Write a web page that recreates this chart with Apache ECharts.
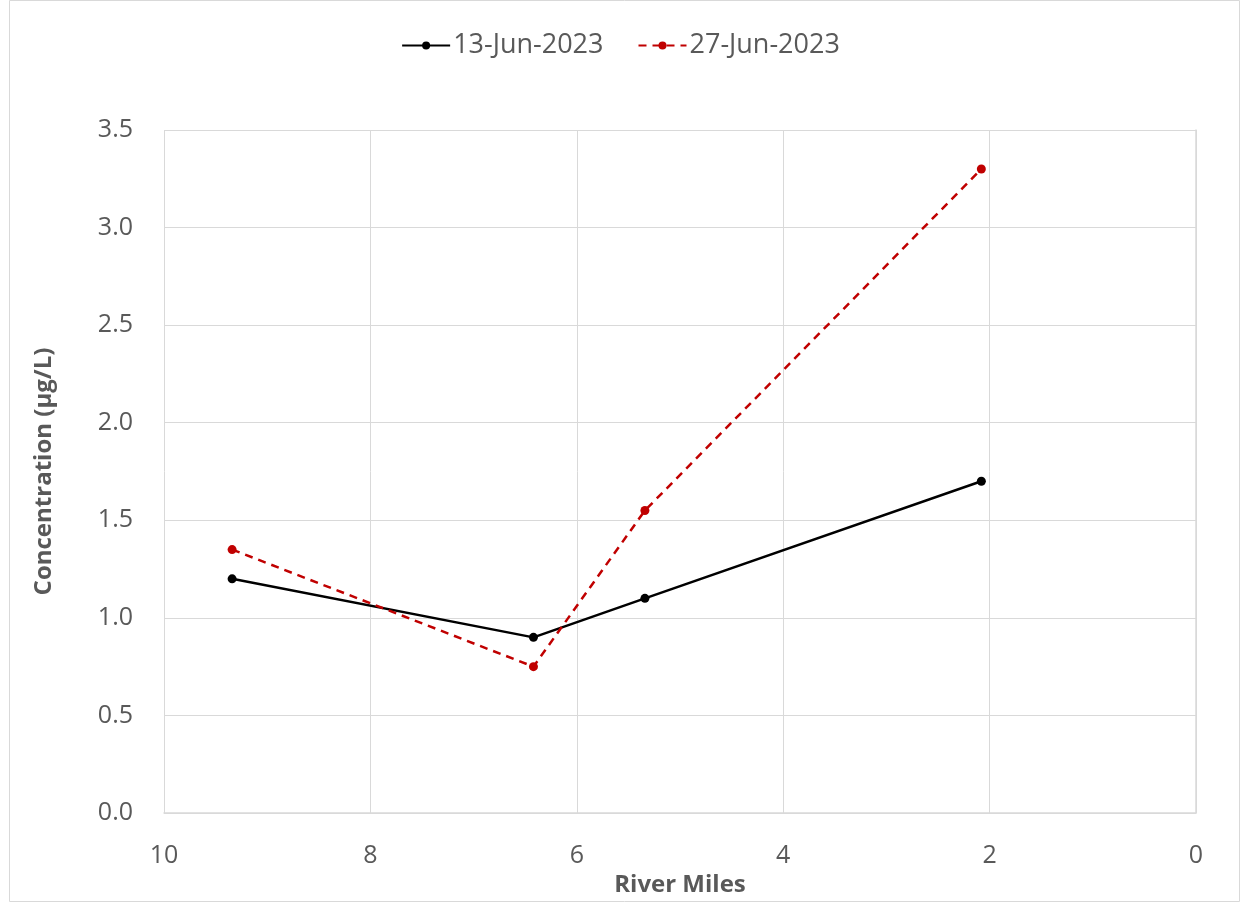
<!DOCTYPE html>
<html><head><meta charset="utf-8">
<script src="https://cdn.jsdelivr.net/npm/echarts@6/dist/echarts.min.js"></script>
<style>html,body{margin:0;padding:0;background:#fff}#c{width:1241px;height:903px}</style>
</head><body><div id="c"></div>
<script>
const riverMiles = [9.34, 6.42, 5.34, 2.08];
const jun13 = [1.2, 0.9, 1.1, 1.7];
const jun27 = [1.35, 0.75, 1.55, 3.3];
const seriesNames = ['13-Jun-2023', '27-Jun-2023'];
const xTitle = 'River Miles';
const yTitle = 'Concentration (µg/L)';

const font = 'Open Sans, Liberation Sans, sans-serif';
const chart = echarts.init(document.getElementById('c'));
const pair = (xs, ys) => xs.map((x, i) => [x, ys[i]]);
chart.setOption({
  animation: false,
  graphic: [{type:'rect', shape:{x:9.5, y:0.5, width:1230, height:901}, style:{fill:'none', stroke:'#d9d9d9', lineWidth:1}}],
  legend: {
    top: 27, left: 'center', itemGap: 34, itemWidth: 48, itemHeight: 10,
    textStyle: {fontFamily: font, fontSize: 27, color: '#595959', padding: [0, 0, 0, -2]},
    data: seriesNames
  },
  grid: {left: 164, right: 45, top: 130, bottom: 90},
  xAxis: {
    type: 'value', inverse: true, min: 0, max: 10, interval: 2,
    name: xTitle, nameLocation: 'middle', nameGap: 60,
    nameTextStyle: {fontFamily: font, fontSize: 24, fontWeight: 'bold', color: '#595959'},
    axisLine: {show: true, lineStyle: {color: '#d9d9d9', width: 1.5}},
    axisTick: {show: false},
    axisLabel: {fontFamily: font, fontSize: 25, color: '#595959', margin: 30},
    splitLine: {show: true, lineStyle: {color: '#d9d9d9', width: 1}}
  },
  yAxis: {
    type: 'value', min: 0, max: 3.5, interval: 0.5,
    name: yTitle, nameLocation: 'middle', nameGap: 108,
    nameTextStyle: {fontFamily: font, fontSize: 24, fontWeight: 'bold', color: '#595959'},
    axisLine: {show: true, lineStyle: {color: '#d9d9d9', width: 1.5}},
    axisTick: {show: false},
    axisLabel: {fontFamily: font, fontSize: 25, color: '#595959', margin: 31, formatter: v => v.toFixed(1)},
    splitLine: {show: true, lineStyle: {color: '#d9d9d9', width: 1}}
  },
  series: [
    {name: seriesNames[0], type: 'line', data: pair(riverMiles, jun13), symbol: 'circle', symbolSize: 9,
     itemStyle: {color: '#000000'}, lineStyle: {color: '#000000', width: 2.5}},
    {name: seriesNames[1], type: 'line', data: pair(riverMiles, jun27), symbol: 'circle', symbolSize: 9,
     itemStyle: {color: '#c00000'}, lineStyle: {color: '#c00000', width: 2.5, type: [8, 6]}}
  ]
});
</script></body></html>
